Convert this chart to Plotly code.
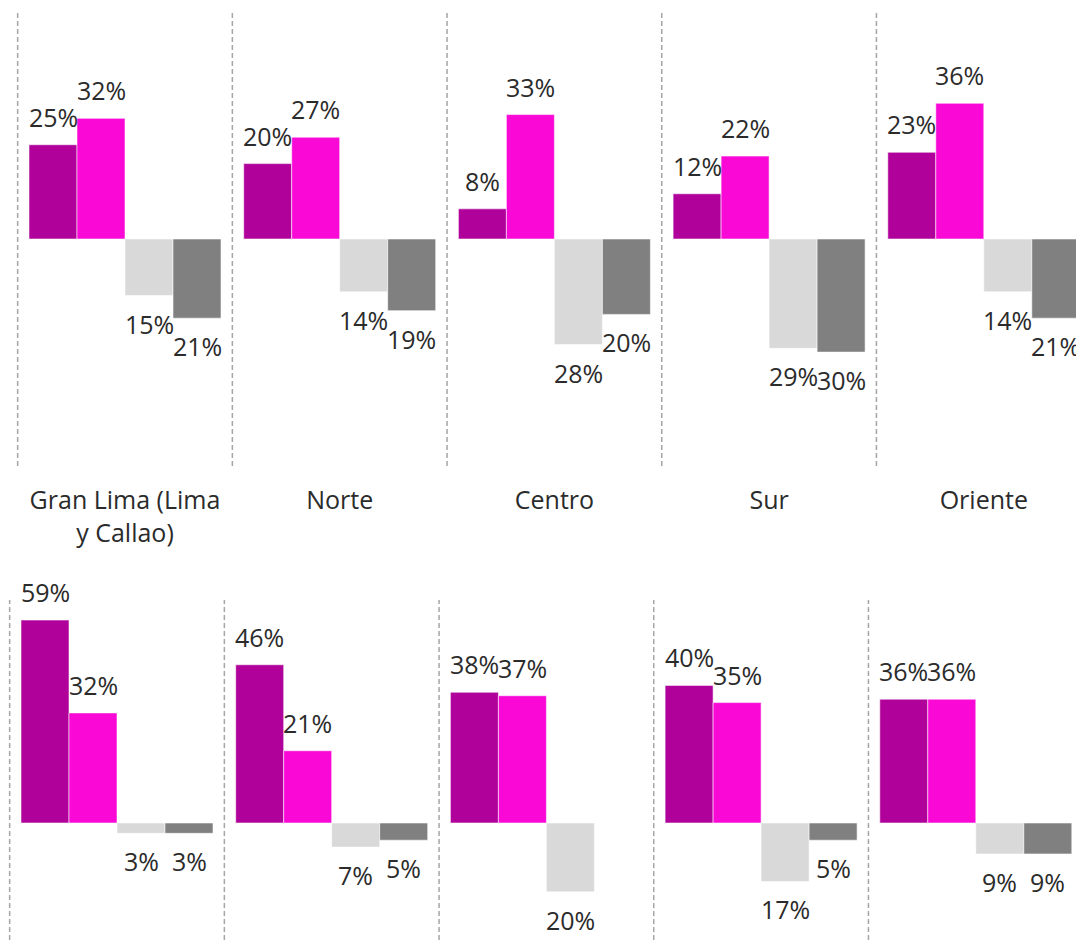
import plotly.graph_objects as go

# Regions shown in each row of panels
regions = ["Gran Lima (Lima<br>y Callao)", "Norte", "Centro", "Sur", "Oriente"]

# Four series per region; the last two are drawn below zero
series_names = ["Mucho mejor", "Mejor", "Peor", "Mucho peor"]
series_colors = ["#B0029A", "#F908D6", "#D9D9D9", "#808080"]

# Upper row of panels (percent)
top_mucho_mejor = [25, 20, 8, 12, 23]
top_mejor = [32, 27, 33, 22, 36]
top_peor = [-15, -14, -28, -29, -14]
top_mucho_peor = [-21, -19, -20, -30, -21]

# Lower row of panels (percent)
bot_mucho_mejor = [59, 46, 38, 40, 36]
bot_mejor = [32, 21, 37, 35, 36]
bot_peor = [-3, -7, -20, -17, -9]
bot_mucho_peor = [-3, -5, None, -5, -9]

W, H = 1076, 940
PX_PER_CAT = 214.7
BAR_W = 48 / PX_PER_CAT
LABEL_SHIFT = 28
TEXT_COLOR = "#2B2B2B"
FONT = "Open Sans, Noto Sans, DejaVu Sans, sans-serif"
FONT_SIZE = 25

top_rows = [top_mucho_mejor, top_mejor, top_peor, top_mucho_peor]
bot_rows = [bot_mucho_mejor, bot_mejor, bot_peor, bot_mucho_peor]
xs = list(range(len(regions)))

fig = go.Figure()
annotations = []


def add_row(rows, xref, yref):
    for j, (vals, name, color) in enumerate(zip(rows, series_names, series_colors)):
        fig.add_trace(go.Bar(
            x=xs, y=vals, name=name,
            xaxis=xref, yaxis=yref,
            width=BAR_W, offset=(j - 2) * BAR_W,
            marker=dict(color=color, line=dict(color="rgba(255,255,255,0.55)", width=1)),
            showlegend=False, hoverinfo="skip",
        ))
        for i, v in enumerate(vals):
            if v is None:
                continue
            annotations.append(dict(
                x=i + (j - 1.5) * BAR_W, y=v,
                xref=xref, yref=yref,
                text=f"{abs(v)}%", showarrow=False,
                xanchor="center", yanchor="middle",
                yshift=LABEL_SHIFT if v >= 0 else -LABEL_SHIFT,
                font=dict(family=FONT, size=FONT_SIZE, color=TEXT_COLOR),
            ))


add_row(top_rows, "x", "y")
add_row(bot_rows, "x2", "y2")

# dashed separators between regions
shapes = []
for k in range(len(regions) + 1):
    shapes.append(dict(type="line", xref="x", yref="y domain",
                       x0=k - 0.5, x1=k - 0.5, y0=0, y1=(466 - 10) / 466,
                       line=dict(color="#A6A6A6", width=1.5, dash="5px,3px")))
    shapes.append(dict(type="line", xref="x2", yref="y2 domain",
                       x0=k - 0.5, x1=k - 0.5, y0=0, y1=1,
                       line=dict(color="#A6A6A6", width=1.5, dash="5px,3px")))

top_left = -125 / PX_PER_CAT
bot_left = -117 / PX_PER_CAT
span = W / PX_PER_CAT

fig.update_layout(
    width=W, height=H,
    margin=dict(l=0, r=0, t=0, b=0),
    paper_bgcolor="white", plot_bgcolor="white",
    barmode="overlay",
    font=dict(family=FONT, size=FONT_SIZE, color=TEXT_COLOR),
    annotations=annotations,
    shapes=shapes,
    xaxis=dict(domain=[0, 1], anchor="y", range=[top_left, top_left + span],
               tickvals=xs, ticktext=regions, ticks="", showgrid=False,
               zeroline=False, showline=False, ticklabelstandoff=17,
               tickfont=dict(family=FONT, size=FONT_SIZE, color=TEXT_COLOR)),
    yaxis=dict(domain=[1 - 466 / H, 1], range=[-(466 - 239) / 3.77, 239 / 3.77],
               visible=False),
    xaxis2=dict(domain=[0, 1], anchor="y2", range=[bot_left, bot_left + span],
                showticklabels=False, ticks="", showgrid=False,
                zeroline=False, showline=False),
    yaxis2=dict(domain=[0, 340 / H], range=[-(940 - 823) / 3.44, (823 - 600) / 3.44],
                visible=False),
)

fig.write_html("out.html")
